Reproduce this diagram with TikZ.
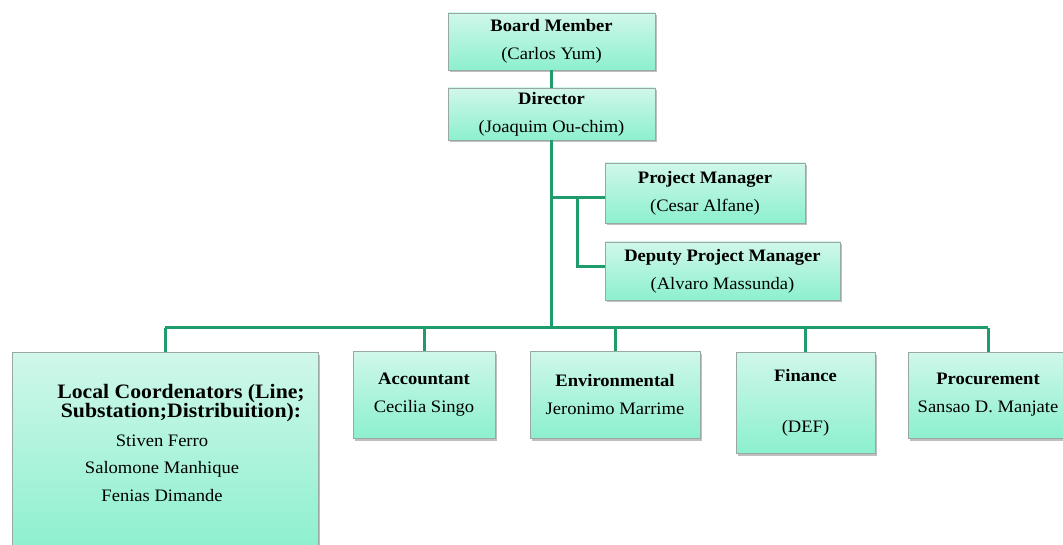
\documentclass[tikz,border=0pt]{standalone}
\usepackage{fontspec}
\setmainfont{Liberation Serif}[FakeStretch=1.06]
\usetikzlibrary{shadows}
\definecolor{boxtop}{HTML}{D0F7EA}
\definecolor{boxbot}{HTML}{8CF0CE}
\definecolor{boxline}{HTML}{9AA8A2}
\definecolor{conncol}{HTML}{1E9C6C}
\tikzset{
  orgbox/.style={draw=boxline, line width=0.7pt, top color=boxtop, bottom color=boxbot,
    inner sep=0pt, outer sep=0pt, anchor=north west, align=center,
    drop shadow={shadow xshift=2pt, shadow yshift=-2.5pt, opacity=0.45, fill=black!55},
    font=\fontsize{17.5}{28}\selectfont},
  conn/.style={draw=conncol, line width=3pt},
  txt/.style={inner sep=0pt, align=center}
}
\begin{document}
\begin{tikzpicture}[x=1pt,y=-1pt]
\useasboundingbox (0,0) rectangle (1063,545);
\fill[white] (0,0) rectangle (1063,545);

\coordinate (busL) at (165,328);
\coordinate (busR) at (988,328);
\coordinate (pmj) at (577,198);
\coordinate (dj) at (577,267);

\node[orgbox, minimum width=207pt, minimum height=57pt] (board) at (448,13) {\textbf{Board Member}\\(Carlos Yum)};
\node[orgbox, minimum width=207pt, minimum height=52pt] (director) at (448,88) {\textbf{Director}\\(Joaquim Ou-chim)};
\node[orgbox, minimum width=200pt, minimum height=60pt] (pm) at (605,163) {\textbf{Project Manager}\\(Cesar Alfane)};
\node[orgbox, minimum width=235pt, minimum height=58pt] (dpm) at (605,242) {\textbf{Deputy Project Manager}\\(Alvaro Massunda)};

\node[orgbox, minimum width=306pt, minimum height=200pt] (local) at (12,352) {};
\node[txt, font=\fontsize{20.5}{16}\selectfont\bfseries] (localhead) at (181,403) {Local Coordenators (Line;\\Substation;Distribuition):};
\node[txt, font=\fontsize{17.5}{27.5}\selectfont] (localnames) at (162,468) {Stiven Ferro\\Salomone Manhique\\Fenias Dimande};

\node[orgbox, minimum width=142pt, minimum height=87pt] (acc) at (353,351) {\textbf{Accountant}\\Cecilia Singo};
\node[orgbox, minimum width=170pt, minimum height=87pt] (env) at (530,351) {\textbf{Environmental}\\Jeronimo Marrime};
\node[orgbox, minimum width=139pt, minimum height=101pt, font=\fontsize{17.5}{25.5}\selectfont] (fin) at (736,352) {\textbf{Finance}\\ \\(DEF)};
\node[orgbox, minimum width=160pt, minimum height=86pt] (proc) at (908,352) {\textbf{Procurement}\\Sansao D. Manjate};

\draw[conn] (board.south) -- (director.north);
\draw[conn] (director.south) -- (director.south |- busL);
\draw[conn] (busL) -- (busR);
\draw[conn] (director.south |- pmj) -- (pm.west |- pmj);
\draw[conn] (pmj) |- (dpm.west |- dj);
\draw[conn] (busL) -- (local.north);
\draw[conn] (acc.north) -- (acc.north |- busL);
\draw[conn] (env.north) -- (env.north |- busL);
\draw[conn] (fin.north) -- (fin.north |- busL);
\draw[conn] (busR) -- (busR |- proc.north);
\end{tikzpicture}
\end{document}
